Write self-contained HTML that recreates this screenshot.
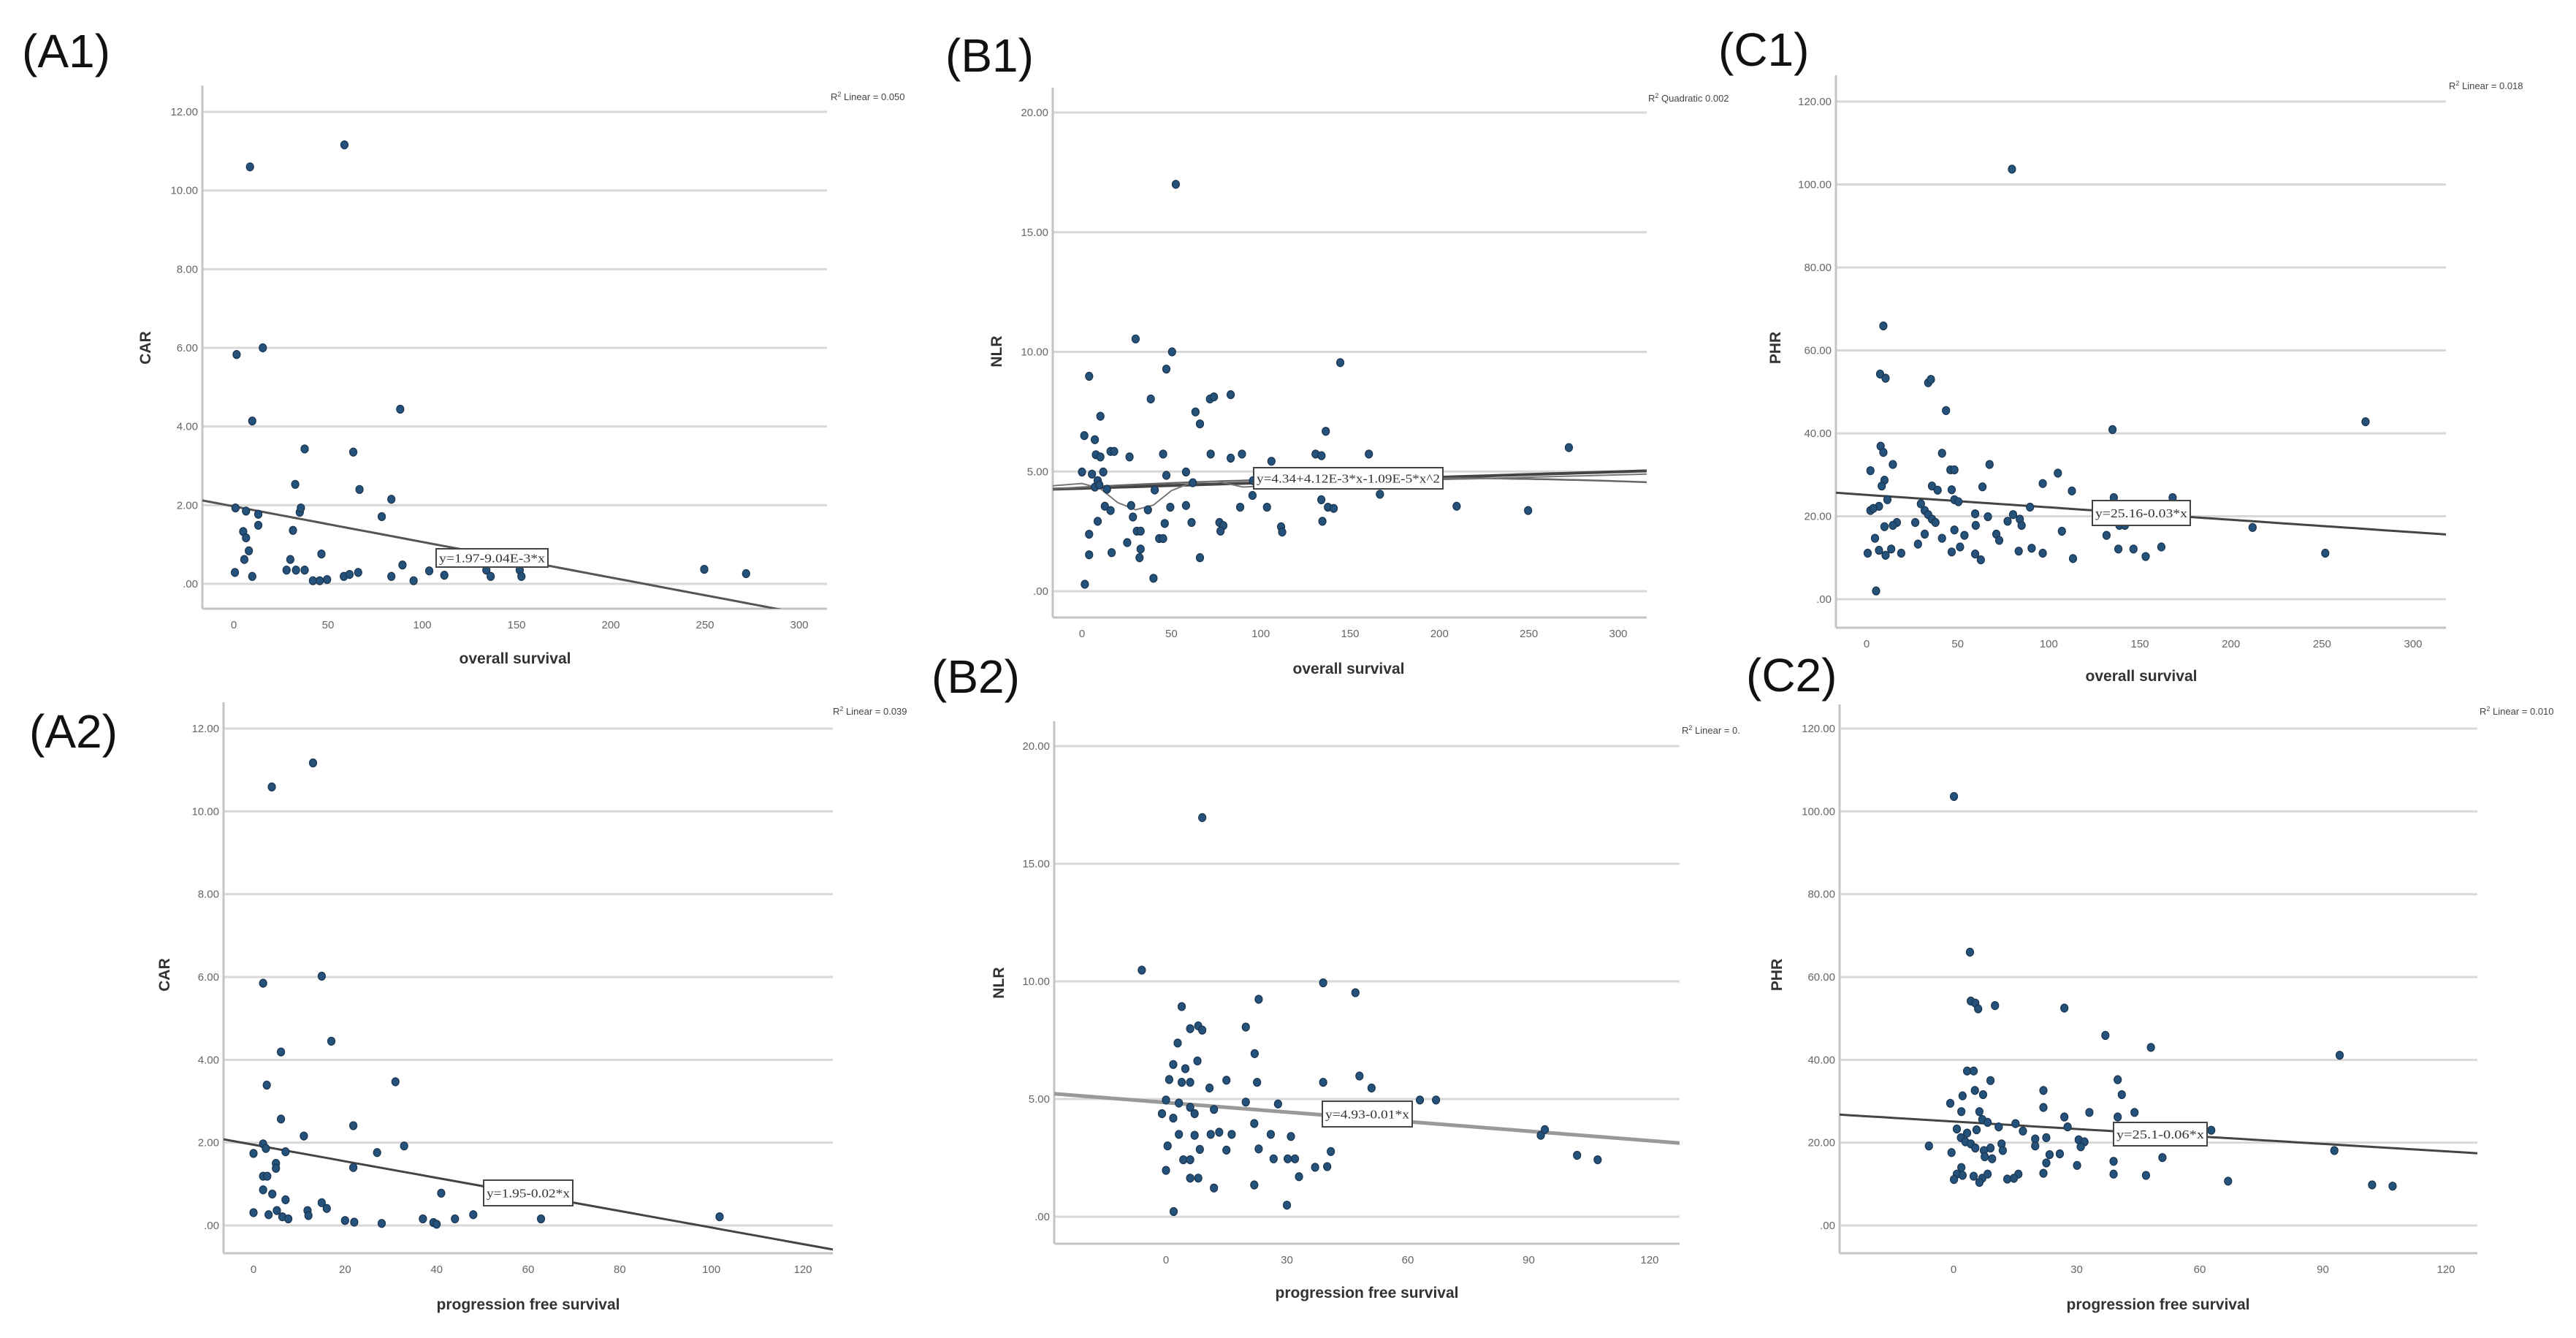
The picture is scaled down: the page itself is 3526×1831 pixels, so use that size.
<!DOCTYPE html>
<html><head><meta charset="utf-8"><style>
html,body{margin:0;padding:0;background:#fff;}
svg{display:block;}
.pl{font-family:"Liberation Sans",sans-serif;font-size:64px;fill:#111;}
.tk{font-family:"Liberation Sans",sans-serif;font-size:15px;fill:#666;}
.ax{font-family:"Liberation Sans",sans-serif;font-size:21px;font-weight:bold;fill:#333;}
.r2{font-family:"Liberation Sans",sans-serif;font-size:13px;fill:#444;}
.eq{font-family:"Liberation Serif",serif;font-size:17px;fill:#333;}
</style></head><body>
<svg id="fig" width="3526" height="1831" viewBox="0 0 3526 1831" xmlns="http://www.w3.org/2000/svg"></svg>
<script>
// ---- data ----
const a1x=[8.6,58.7,1.5,15.4,9.8,88.3,37.6,63.4,32.6,66.7,83.6,78.5,0.9,6.5,13,13,35,35.6,31.4,5,6.5,8,5.6,46.5,0.6,9.8,30,28,33,37.6,42,45.6,49.5,58.4,61.4,66,83.6,89.5,95.4,103.7,111.7,134,136.3,151.7,152.6,249.6,271.8];
const a1y=[10.6,11.16,5.83,6.0,4.14,4.44,3.43,3.35,2.53,2.40,2.15,1.71,1.93,1.85,1.77,1.49,1.82,1.93,1.36,1.33,1.17,0.84,0.62,0.76,0.29,0.19,0.62,0.35,0.35,0.35,0.08,0.08,0.11,0.19,0.24,0.29,0.19,0.48,0.08,0.33,0.22,0.35,0.19,0.35,0.19,0.37,0.26];
const a2x=[4,13,2.1,14.9,6,17,2.9,31,6,21.8,11,32.9,2.1,2.7,0,7,27,4.9,4.9,2.1,3,21.8,2.1,4.1,7,41,0,3.3,5.1,6.3,7.6,11.8,12,14.9,16,20,22,28,37,39.3,40,44,48,62.8,101.8];
const a2y=[10.59,11.17,5.85,6.02,4.19,4.45,3.39,3.47,2.57,2.41,2.16,1.92,1.97,1.86,1.74,1.78,1.76,1.5,1.38,1.19,1.19,1.40,0.86,0.76,0.62,0.78,0.31,0.26,0.36,0.21,0.16,0.36,0.24,0.55,0.41,0.12,0.08,0.05,0.16,0.07,0.03,0.16,0.26,0.16,0.21];
const b1x=[52.5,30,50.4,47.2,4,144.5,38.5,71.6,73.8,83.2,63.5,66,10.3,136.4,1.3,7.2,7.8,10.3,16,18,26.6,45.4,72,83.2,89.5,106,130.7,134,160.5,272.4,0,5.6,8.8,11.9,7.2,47.2,58.2,62,40.7,95.7,95.4,166.7,12.8,16,27.5,36.9,49.4,58.2,88.5,103.5,133.9,137.6,140.8,209.6,249.6,28.5,8.8,46.3,61.3,76.9,79.1,77.5,111.4,112,134.5,4,30.7,32.8,43.2,45.4,25.3,16.6,4,32.8,32.2,66,40,1.6,9.7,14];
const b1y=[17.0,10.54,10.0,9.28,8.98,9.55,8.03,8.03,8.12,8.21,7.49,6.99,7.31,6.68,6.5,6.33,5.7,5.61,5.84,5.84,5.61,5.73,5.73,5.56,5.73,5.43,5.73,5.66,5.73,6.0,4.98,4.89,4.62,4.98,4.35,4.84,4.98,4.53,4.23,4.62,4.0,4.05,3.55,3.37,3.58,3.4,3.51,3.58,3.51,3.51,3.82,3.51,3.46,3.55,3.37,3.1,2.92,2.83,2.87,2.87,2.74,2.51,2.69,2.47,2.92,2.38,2.51,2.51,2.2,2.2,2.03,1.61,1.52,1.76,1.4,1.4,0.54,0.29,4.44,4.26];
const b1loessX=[-17,0,10,20,30,40,50,60,75,90,120,160,220,320];
const b1loessY=[4.4,4.5,4.3,3.7,3.4,3.6,4.2,4.5,4.6,4.35,4.45,4.6,4.7,4.9];
const b2x=[9,-6,39,47,3.9,23,6,8,9,19.8,2.9,22,7.8,1.8,4.8,0.8,3.9,6,10.8,15,22.6,39,48,51,0,3.2,6,7.1,-1,1.8,11.9,19.8,27.8,63,67,21.9,3.2,7.1,11.1,13.2,16.3,26,31,93,94,0.4,8.4,15,23,40.9,4.3,6,26.7,30.2,32,102,107.1,0,37,40,33,6,8,11.9,21.9,30,1.9];
const b2y=[16.96,10.48,9.94,9.52,8.93,9.24,7.99,8.11,7.93,8.06,7.38,6.93,6.62,6.47,6.29,5.83,5.71,5.71,5.47,5.8,5.71,5.71,5.98,5.47,4.96,4.83,4.65,4.38,4.38,4.19,4.56,4.87,4.79,4.96,4.96,3.96,3.5,3.46,3.5,3.59,3.5,3.5,3.41,3.46,3.7,3.01,2.86,2.83,2.88,2.77,2.42,2.42,2.46,2.46,2.46,2.61,2.42,1.97,2.1,2.13,1.7,1.64,1.64,1.22,1.35,0.49,0.22];
const c1x=[79.8,9.2,7.4,10.4,33.8,35.3,43.6,135,273.9,7.7,9.2,41.4,14.4,67.5,2.1,46,48.2,105,96.7,9.8,8.3,35.9,39,63.6,46.7,112.7,48.2,50.4,135.7,168,11.4,6.8,2.1,3.7,89.7,29.8,31.9,33.8,35.9,59.6,66.6,80.4,84.1,77.4,9.8,16.6,14.4,26.7,37.8,59.9,85.1,138.8,141.8,211.9,4.6,28.2,31.9,41.4,48.2,53.7,71.2,72.8,107.2,131.7,0.6,6.8,10.4,13.5,19,46.7,51.3,59.6,62.7,83.5,90.6,96.7,113.3,138.2,146.5,153.2,161.8,251.8,5.2];
const c1y=[103.7,65.9,54.3,53.3,52.2,53,45.5,40.9,42.8,36.9,35.4,35.2,32.5,32.5,31,31.2,31.2,30.4,27.9,28.7,27.3,27.3,26.3,27.1,26.4,26.1,24,23.5,24.5,24.5,24,22.4,21.4,21.9,22.2,23,21.4,20.4,19.3,20.6,19.9,20.4,19.3,18.8,17.5,18.5,17.8,18.5,18.5,17.8,17.8,17.8,17.8,17.3,14.7,13.3,15.7,14.7,16.7,15.4,15.7,14.2,16.4,15.4,11.1,11.8,10.6,12.1,11.1,11.4,12.6,10.9,9.5,11.6,12.3,11.1,9.8,12.1,12.1,10.3,12.6,11.1,2];
const c2x=[0.1,4,4.2,5.3,6,10.1,27,37,48.1,94.1,3.3,4.9,9,40,5.2,7.2,2.2,21.9,41,-0.8,1.9,6.3,21.9,27,33.1,40,44.1,7,8.3,15.1,11,27.8,0.8,3.3,5.6,16.9,62.8,1.8,2.9,4.2,19.9,22.6,30.5,31.9,-6,5.3,7.4,9,11.7,12,19.9,31,23.4,-0.5,7.6,9.4,25.9,39,50.9,92.8,22.6,30.1,1.9,0.8,2.2,4.9,7,8.3,15.8,21.9,39,46.9,0.1,6.3,13.1,14.7,66.9,102,107];
const c2y=[103.6,66,54.2,53.7,52.3,53.1,52.5,45.9,43,41.1,37.3,37.3,35,35.2,32.6,31.6,31.3,32.6,31.6,29.5,27.5,27.5,28.5,26.2,27.3,26.2,27.3,25.6,24.9,24.6,23.8,23.8,23.3,22.3,23.1,22.8,23,21.2,20.2,19.7,20.9,21.2,20.7,20.2,19.2,18.7,18.1,18.7,19.7,18.1,19.2,19,17.1,17.6,16.6,16.1,17.3,15.5,16.4,18.1,15.1,14.5,14,12.4,12.1,11.9,11.4,12.4,12.4,12.6,12.4,12.1,11.1,10.4,11.2,11.4,10.7,9.8,9.5];
const xTicksOS=[0,50,100,150,200,250,300];
const xTicksA2=[0,20,40,60,80,100,120];
const xTicksPFS=[0,30,60,90,120];
const yTicksCAR=[0,2,4,6,8,10,12];
const yTicksNLR=[0,5,10,15,20];
const yTicksPHR=[0,20,40,60,80,100,120];
const fitA1=[1.97,-0.00904];
const fitA2=[1.95,-0.02];
const fitB1lin=[4.30,0.0023];
const fitB1quad=[4.34,0.00412,-0.0000109];
const fitB2=[4.85,-0.0135];
const fitC1=[25.16,-0.03];
const fitC2=[25.1,-0.06];

const NS='http://www.w3.org/2000/svg';
const svg=document.getElementById('fig');
function mk(tag,attrs,parent){const e=document.createElementNS(NS,tag);for(const k in attrs)e.setAttribute(k,attrs[k]);(parent||svg).appendChild(e);return e;}
function fmt(v){if(v===0)return '.00';return v.toFixed(2);}

function panel(p){
  const g=mk('g',{});
  
  
  const sx=v=>p.x0+(v-p.xv0)*(p.x1-p.x0)/(p.xv1-p.xv0);
  const sy=v=>p.y0+(v-p.yv0)*(p.y1-p.y0)/(p.yv1-p.yv0);
  const cid='clip-'+p.id;
  const cp=mk('clipPath',{id:cid},g);mk('rect',{x:p.ax,y:p.top,width:p.right-p.ax,height:p.bot-p.top},cp);
  const lb=mk('text',{x:p.lx,y:p.ly,class:'pl'},g);lb.textContent=p.label;
  
  
  p.yt.forEach(v=>{
    const gl=mk('line',{x1:p.ax,x2:p.right,y1:sy(v),y2:sy(v),stroke:'#d8d8d8','stroke-width':3},g);
    
    
    const t=mk('text',{x:p.ax-6,y:sy(v)+5,'text-anchor':'end',class:'tk'},g);t.textContent=fmt(v);
    
    
  });
  const ya=mk('line',{x1:p.ax,x2:p.ax,y1:p.top,y2:p.bot,stroke:'#c4c4c4','stroke-width':3},g);
  
  
  const xa=mk('line',{x1:p.ax,x2:p.right,y1:p.bot,y2:p.bot,stroke:'#c4c4c4','stroke-width':3},g);
  
  
  p.xt.forEach(v=>{
    const t=mk('text',{x:sx(v),y:p.bot+27,'text-anchor':'middle',class:'tk'},g);t.textContent=v;
    
    
  });
  const xt=mk('text',{x:p.xlx,y:p.xly,'text-anchor':'middle',class:'ax'},g);xt.textContent=p.xlabel;
  
  
  const yt=mk('text',{x:p.ylx,y:p.yly,'text-anchor':'middle',class:'ax',transform:'rotate(-90 '+p.ylx+' '+p.yly+')'},g);yt.textContent=p.ylabel;
  
  
  const r2=mk('text',{x:p.r2x,y:p.r2y,class:'r2'},g);r2.innerHTML='R<tspan dy="-5" font-size="9">2</tspan><tspan dy="5"> '+p.r2+'</tspan>';
  
  
  const cg=mk('g',{'clip-path':'url(#'+cid+')'},g);
  const xa0=(p.ax-p.x0)*(p.xv1-p.xv0)/(p.x1-p.x0)+p.xv0, xa1=(p.right-p.x0)*(p.xv1-p.xv0)/(p.x1-p.x0)+p.xv0;
  p.fits.forEach(f=>{
    let d='';const n=60;
    for(let i=0;i<=n;i++){const xv=xa0+(xa1-xa0)*i/n;let yv=0;f.c.forEach((c,k)=>yv+=c*Math.pow(xv,k));d+=(i?'L':'M')+sx(xv).toFixed(1)+' '+sy(yv).toFixed(1);}
    const l=mk('path',{d:d,fill:'none',stroke:f.col||'#555','stroke-width':f.w||3},cg);
    
    
  });
  if(p.loessX){
    let d='';p.loessX.forEach((xv,i)=>{d+=(i?'L':'M')+sx(xv).toFixed(1)+' '+sy(p.loessY[i]).toFixed(1);});
    const l=mk('path',{d:d,fill:'none',stroke:'#777','stroke-width':2},cg);
    
    
  }
  p.px.forEach((xv,i)=>{
    const c=mk('ellipse',{cx:sx(xv),cy:sy(p.py[i]),rx:5,ry:5.5,fill:'#24527a',stroke:'#1b3550','stroke-width':1.2},g);
    
    
  });
  const eb=mk('rect',{x:p.ex,y:p.ey,width:p.ew,height:p.eh,fill:'#fff',stroke:'#444','stroke-width':2},g);
  
  
  const et=mk('text',{x:p.ex+4,y:p.ey+p.eh/2+6,class:'eq',textLength:p.ew-8,lengthAdjust:'spacingAndGlyphs'},g);et.textContent=p.eq;
  
  
}

panel({id:'a1',label:'(A1)',lx:30,ly:92,ax:277,right:1132,top:117,bot:833,x0:320,x1:1094,xv0:0,xv1:300,y0:799,y1:153,yv0:0,yv1:12,
 xt:xTicksOS,yt:yTicksCAR,xlabel:'overall survival',xlx:705,xly:908,ylabel:'CAR',ylx:206,yly:476,r2x:1137,r2y:137,r2:'Linear = 0.050',
 fits:[{c:fitA1}],px:a1x,py:a1y,ex:597,ey:751,ew:153,eh:25,eq:'y=1.97-9.04E-3*x'});
panel({id:'b1',label:'(B1)',lx:1294,ly:98,ax:1441,right:2254,top:120,bot:845,x0:1481,x1:2215,xv0:0,xv1:300,y0:809,y1:154,yv0:0,yv1:20,
 xt:xTicksOS,yt:yTicksNLR,xlabel:'overall survival',xlx:1846,xly:922,ylabel:'NLR',ylx:1371,yly:481,r2x:2256,r2y:139,r2:'Quadratic 0.002',
 fits:[{c:fitB1lin,col:'#444',w:4},{c:fitB1quad,col:'#666',w:2.5}],loessX:b1loessX,loessY:b1loessY,px:b1x,py:b1y,ex:1716,ey:640,ew:259,eh:29,eq:'y=4.34+4.12E-3*x-1.09E-5*x^2'});
panel({id:'c1',label:'(C1)',lx:2352,ly:90,ax:2513,right:3348,top:103,bot:859,x0:2555,x1:3303,xv0:0,xv1:300,y0:820,y1:139,yv0:0,yv1:120,
 xt:xTicksOS,yt:yTicksPHR,xlabel:'overall survival',xlx:2931,xly:932,ylabel:'PHR',ylx:2437,yly:476,r2x:3352,r2y:122,r2:'Linear = 0.018',
 fits:[{c:fitC1,col:'#444'}],px:c1x,py:c1y,ex:2864,ey:685,ew:134,eh:34,eq:'y=25.16-0.03*x'});
panel({id:'a2',label:'(A2)',lx:40,ly:1023,ax:306,right:1140,top:961,bot:1715,x0:347,x1:1099,xv0:0,xv1:120,y0:1677,y1:997,yv0:0,yv1:12,
 xt:xTicksA2,yt:yTicksCAR,xlabel:'progression free survival',xlx:723,xly:1792,ylabel:'CAR',ylx:232,yly:1334,r2x:1140,r2y:978,r2:'Linear = 0.039',
 fits:[{c:fitA2,col:'#444'}],px:a2x,py:a2y,ex:662,ey:1615,ew:122,eh:35,eq:'y=1.95-0.02*x'});
panel({id:'b2',label:'(B2)',lx:1275,ly:948,ax:1443,right:2299,top:987,bot:1702,x0:1596,x1:2258,xv0:0,xv1:120,y0:1665,y1:1021,yv0:0,yv1:20,
 xt:xTicksPFS,yt:yTicksNLR,xlabel:'progression free survival',xlx:1871,xly:1776,ylabel:'NLR',ylx:1374,yly:1345,r2x:2302,r2y:1004,r2:'Linear = 0.',
 fits:[{c:fitB2,col:'#999',w:5}],px:b2x,py:b2y,ex:1810,ey:1507,ew:123,eh:35,eq:'y=4.93-0.01*x'});
panel({id:'c2',label:'(C2)',lx:2390,ly:946,ax:2518,right:3391,top:964,bot:1715,x0:2674,x1:3348,xv0:0,xv1:120,y0:1677,y1:997,yv0:0,yv1:120,
 xt:xTicksPFS,yt:yTicksPHR,xlabel:'progression free survival',xlx:2954,xly:1792,ylabel:'PHR',ylx:2439,yly:1334,r2x:3394,r2y:978,r2:'Linear = 0.010',
 fits:[{c:fitC2,col:'#444'}],px:c2x,py:c2y,ex:2893,ey:1536,ew:128,eh:32,eq:'y=25.1-0.06*x'});
</script>
</body></html>
